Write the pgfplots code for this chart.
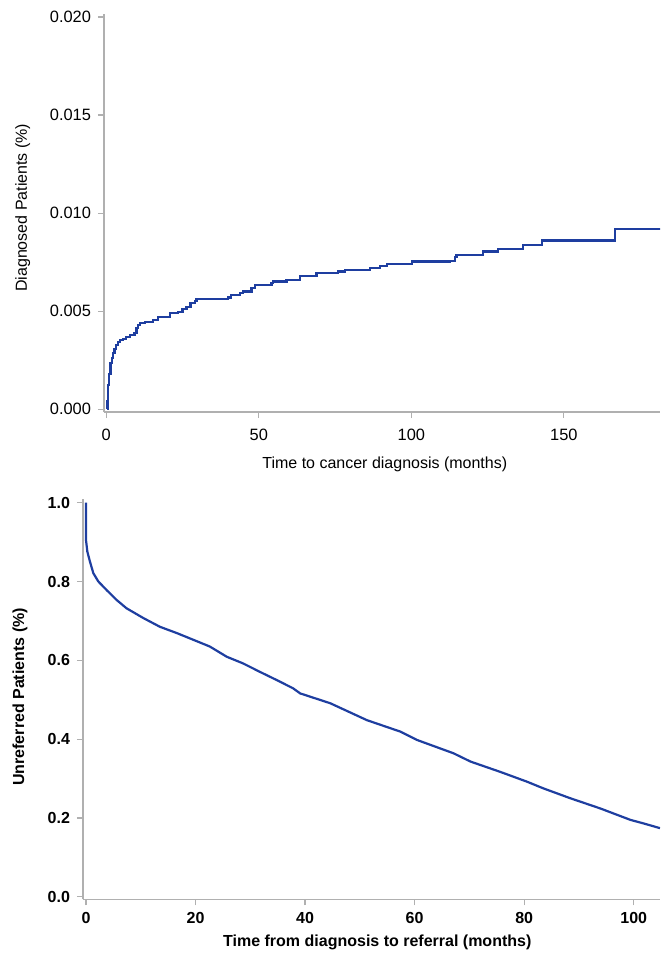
\documentclass[border=0pt]{standalone}
\usepackage{fontspec}
\setmainfont{Liberation Sans}
\usepackage{pgfplots}
\pgfplotsset{compat=1.18}
\definecolor{kmblue}{RGB}{30,62,160}
\definecolor{spine}{RGB}{176,176,176}

\pgfplotsset{km/.style={
  scale only axis,
  axis x line*=bottom, axis y line*=left,
  axis line style={spine,line width=0.6pt,-},
  tick align=outside, major tick length=3pt,
  every tick/.style={spine,line width=0.6pt},
  minor tick num=0,
  /pgf/number format/assume math mode=true,
  clip=true,
}}

\begin{document}
\begin{tikzpicture}
\path[use as bounding box] (0,0) rectangle (330pt,-480pt);

% cumulative incidence
\begin{axis}[km, at={(52pt,-206pt)}, anchor=south west,
  width=278pt, height=199pt,
  xmin=-0.72, xmax=181.5, ymin=-0.000138, ymax=0.02015,
  xtick={0,50,100,150}, ytick={0,0.005,0.01,0.015,0.02},
  scaled y ticks=false,
  tick label style={font=\fontsize{8.2}{9}\selectfont},
  label style={font=\fontsize{8}{9}\selectfont},
  xticklabel style={yshift=-2pt},
  yticklabel style={/pgf/number format/.cd,fixed,fixed zerofill,precision=3},
  xlabel={Time to cancer diagnosis (months)},
  ylabel={Diagnosed Patients (\%)},
  xlabel style={at={(axis description cs:0.505,-0.1307)},anchor=center},
  ylabel style={at={(axis description cs:-0.146,0.513)},anchor=center},
]
\addplot[const plot, kmblue, line width=1.1pt] coordinates {
(0.3,0) (0.4,0.00040) (0.6,0.00124) (1.0,0.00180) (1.4,0.00235) (1.8,0.00260)
(2.2,0.00285) (2.7,0.00308) (3.3,0.00328) (3.9,0.00342) (4.4,0.00353)
(5.5,0.00360) (6.6,0.00367) (7.7,0.00379) (9.3,0.00390) (9.9,0.00413)
(10.5,0.00428) (11.0,0.00438) (12.6,0.00447) (15.3,0.00455) (17.0,0.00472)
(20.8,0.00489) (23.5,0.00498) (25.0,0.00510) (26.3,0.00523) (27.6,0.00540)
(29.0,0.00554) (29.6,0.00561) (39.9,0.00570) (41.0,0.00583) (43.8,0.00591)
(44.9,0.00600) (47.6,0.00617) (48.7,0.00634) (54.2,0.00642) (54.7,0.00651)
(59.1,0.00659) (63.4,0.00680) (68.9,0.00693) (76.0,0.00702) (78.2,0.00710)
(86.4,0.00719) (89.7,0.00731) (91.9,0.00741) (100.1,0.00753) (112.6,0.00758)
(114.3,0.00778) (114.8,0.00787) (123.5,0.00804) (128.5,0.00817) (136.7,0.00838)
(142.7,0.00860) (166.7,0.00918) (182,0.00918)
};
\end{axis}

% time to referral
\begin{axis}[km, at={(41.5pt,-449.65pt)}, anchor=south west,
  width=288.5pt, height=200pt,
  xmin=-0.55, xmax=104.8, ymin=-0.0066, ymax=1.0086,
  xtick={0,20,40,60,80,100}, ytick={0,0.2,0.4,0.6,0.8,1.0},
  tick label style={font=\fontsize{8}{9}\selectfont\bfseries},
  label style={font=\fontsize{8}{9}\selectfont\bfseries},
  yticklabel style={/pgf/number format/.cd,fixed,fixed zerofill,precision=1},
  xlabel={Time from diagnosis to referral (months)},
  ylabel={Unreferred Patients (\%)},
  xlabel style={at={(axis description cs:0.51,-0.108)},anchor=center},
  ylabel style={at={(axis description cs:-0.109,0.506)},anchor=center},
]
\addplot[kmblue, line width=1.1pt] coordinates {
(0,1.0) (0,0.905) (0.24,0.876) (0.73,0.850) (1.34,0.821) (2.25,0.800)
(3.78,0.778) (5.6,0.753) (7.4,0.732) (10.5,0.707) (13.5,0.685) (16.6,0.669)
(19.6,0.652) (22.6,0.635) (25.7,0.609) (28.7,0.592) (31.7,0.571) (34.8,0.550)
(37.8,0.529) (39.1,0.516) (44.6,0.491) (51.3,0.448) (57.4,0.419) (60.4,0.398)
(67.1,0.364) (70.2,0.343) (75.6,0.317) (80.5,0.292) (83.5,0.275) (88.4,0.250)
(93.9,0.224) (99.4,0.195) (101.8,0.186) (104.8,0.174)
};
\end{axis}
\end{tikzpicture}
\end{document}
